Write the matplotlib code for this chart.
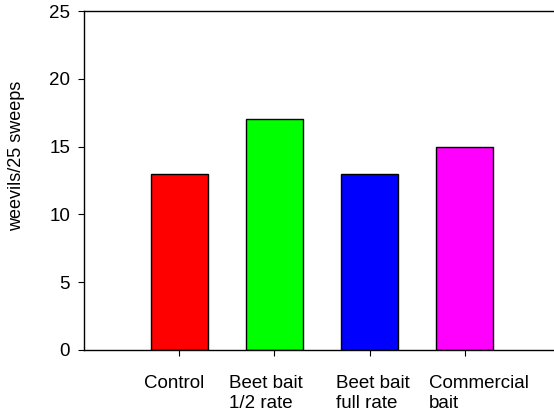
import matplotlib.pyplot as plt
import matplotlib.transforms as mtransforms
import numpy as np

plt.rcParams['font.family'] = ['Liberation Sans', 'DejaVu Sans']

categories = ['Control', 'Beet bait\n1/2 rate', 'Beet bait\nfull rate', 'Commercial\nbait']
weevils = [13, 17, 13, 15]
colors = ['#ff0000', '#00ff00', '#0000ff', '#ff00ff']

fig = plt.figure(figsize=(5.54, 4.17), dpi=100)
ax = fig.add_axes([84 / 554, 67 / 417, 476 / 554, 339 / 417])

x = np.arange(len(categories))
ax.bar(x, weevils, width=0.6, color=colors, edgecolor='black', linewidth=1)

ax.set_xlim(-1, 4)
ax.set_ylim(0, 25)
ax.set_yticks([0, 5, 10, 15, 20, 25])
ax.set_xticks(x)
ax.set_xticklabels(categories, fontsize=13.5)
ax.tick_params(axis='y', labelsize=13.5, direction='out', length=4, pad=6)
ax.tick_params(axis='x', direction='out', length=4, pad=14)
ax.set_ylabel('weevils/25 sweeps', fontsize=13)
ax.yaxis.set_label_coords(-0.124, 0.572)

# nudge labels sideways like the original layout
shifts = [-5, -9, 3, 14]
for lab, dx in zip(ax.get_xticklabels(), shifts):
    lab.set_multialignment('left')
    lab.set_transform(lab.get_transform() + mtransforms.ScaledTranslation(dx / 100, 0, fig.dpi_scale_trans))

ax.spines['right'].set_visible(False)
for s in ['left', 'top', 'bottom']:
    ax.spines[s].set_linewidth(1)
    ax.spines[s].set_color('black')

fig.savefig('out.png', dpi=100)
